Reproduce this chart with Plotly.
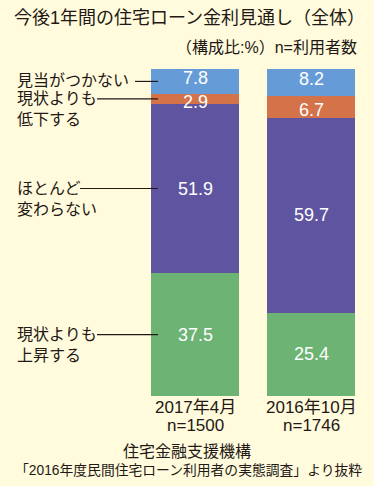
import plotly.graph_objects as go

# ---- data ----
categories = ["2017年4月", "2016年10月"]
n_labels = ["n=1500", "n=1746"]
series_names = ["現状よりも上昇する", "ほとんど変わらない", "現状よりも低下する", "見当がつかない"]
side_labels = ["現状よりも<br>上昇する", "ほとんど<br>変わらない", "現状よりも<br>低下する", "見当がつかない"]
rise = [37.5, 25.4]
same = [51.9, 59.7]
fall = [2.9, 6.7]
unknown = [7.8, 8.2]
title_text = "今後1年間の住宅ローン金利見通し（全体）"
subtitle_text = "（構成比:%）n=利用者数"
source_lines = ["住宅金融支援機構", "「2016年度民間住宅ローン利用者の実態調査」より抜粋"]

# ---- style ----
W, H = 374, 486
MT, MB = 69, 90
PH = H - MT - MB
BG = "#fffbdc"
colors = ["#6db374", "#5f54a0", "#d4724a", "#659bd6"]
FONT = "Liberation Sans, Arial, Noto Sans CJK JP, sans-serif"
TXT = "#231815"
label_line_start_px = [97, 80, 97, 135]
value_label_yshift = [0, 0, -3, 3]  # px nudges so thin segments' labels don't collide

def py(pix):  # pixel y -> paper y
    return (H - MB - pix) / PH

def px(pix):
    return pix / W

xs = list(range(len(categories)))
series = [rise, same, fall, unknown]

fig = go.Figure()
for name, vals, col in zip(series_names, series, colors):
    fig.add_trace(go.Bar(
        x=xs, y=vals, name=name, width=0.7586,
        marker=dict(color=col, line=dict(width=0)),
        hoverinfo="skip",
    ))

annotations = []
shapes = []

# value labels at segment centers
for i in range(len(xs)):
    cum = 0
    for vals, ys in zip(series, value_label_yshift):
        center = cum + vals[i] / 2
        cum += vals[i]
        annotations.append(dict(text=f"{vals[i]:.1f}", xref="x", yref="y", x=xs[i], y=center,
                                yshift=ys, xanchor="center", yanchor="middle", showarrow=False,
                                font=dict(size=18, color="white", family=FONT)))

# left side labels with leader lines (at centers of first bar's segments)
cum = 0
for vals, lab, x0 in zip(series, side_labels, label_line_start_px):
    center = cum + vals[0] / 2
    cum += vals[0]
    annotations.append(dict(
        text=lab, xref="paper", yref="y", x=px(15), y=center,
        xanchor="left", yanchor="top", yshift=11, align="left",
        showarrow=False, font=dict(size=16, color=TXT, family=FONT)))
    shapes.append(dict(type="line", xref="paper", yref="y",
                       x0=px(x0), x1=px(158), y0=center, y1=center,
                       line=dict(color=TXT, width=1.2)))

# category labels
for x, c, n in zip(xs, categories, n_labels):
    annotations.append(dict(text=c, xref="x", yref="paper", x=x, y=py(407),
                            xanchor="center", yanchor="middle", showarrow=False,
                            font=dict(size=17, color=TXT, family=FONT)))
    annotations.append(dict(text=n, xref="x", yref="paper", x=x, y=py(425),
                            xanchor="center", yanchor="middle", showarrow=False,
                            font=dict(size=17, color=TXT, family=FONT)))

# title & subtitle
annotations.append(dict(text=title_text, xref="paper", yref="paper", x=px(12), y=py(18),
                        xanchor="left", yanchor="middle", showarrow=False,
                        font=dict(size=18, color=TXT, family=FONT)))
annotations.append(dict(text=subtitle_text, xref="paper", yref="paper", x=px(359), y=py(47),
                        xanchor="right", yanchor="middle", showarrow=False,
                        font=dict(size=16, color=TXT, family=FONT)))

# source
annotations.append(dict(text=source_lines[0], xref="paper", yref="paper", x=px(187), y=py(451),
                        xanchor="center", yanchor="middle", showarrow=False,
                        font=dict(size=16, color=TXT, family=FONT)))
annotations.append(dict(text=source_lines[1], xref="paper", yref="paper", x=px(188), y=py(470),
                        xanchor="center", yanchor="middle", showarrow=False,
                        font=dict(size=13.8, color=TXT, family=FONT)))

fig.update_layout(
    width=W, height=H, barmode="stack",
    margin=dict(l=0, r=0, t=MT, b=MB, pad=0),
    paper_bgcolor=BG, plot_bgcolor=BG,
    showlegend=False,
    xaxis=dict(range=[-195 / 116, (W - 195) / 116], visible=False, fixedrange=True),
    yaxis=dict(range=[0, 100], visible=False, fixedrange=True),
    annotations=annotations, shapes=shapes,
    font=dict(family=FONT, color=TXT),
)

fig.write_html(
    "out.html",
    config={"displayModeBar": False},
    post_script="document.body.style.margin='0';document.body.style.padding='0';document.body.style.overflow='hidden';document.body.style.background='" + BG + "';",
)
